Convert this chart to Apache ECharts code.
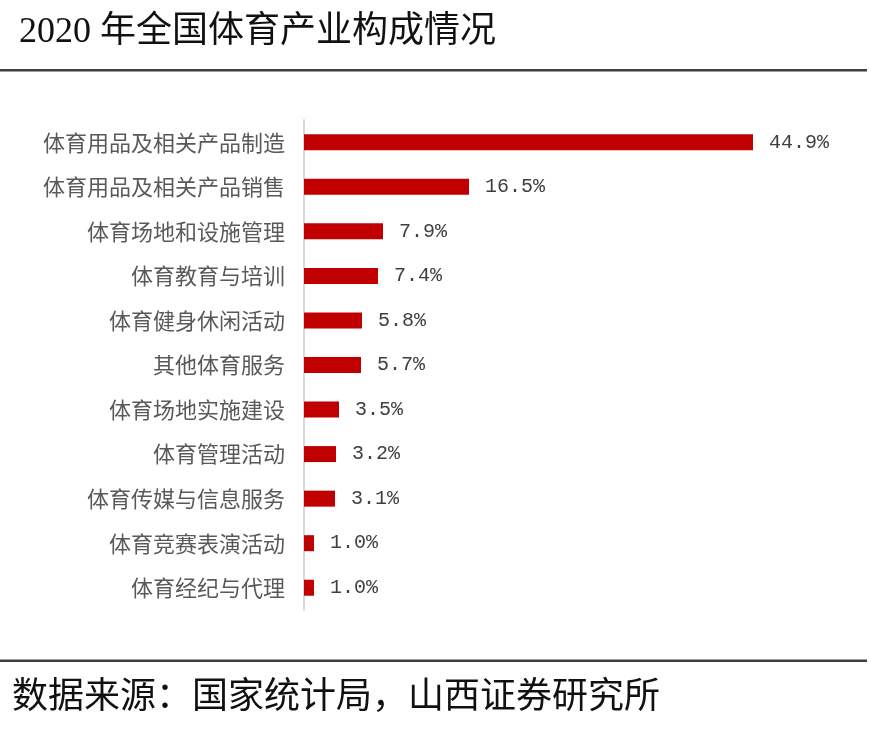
<!DOCTYPE html>
<html><head><meta charset="utf-8">
<script src="https://cdn.jsdelivr.net/npm/echarts@6/dist/echarts.min.js"></script>
<style>html,body{margin:0;padding:0;background:#fff}#c{width:869px;height:743px}</style>
</head><body><div id="c"></div>
<script>
const titleText = '2020 年全国体育产业构成情况';
const sourceText = '数据来源：国家统计局，山西证券研究所';
const categories = ['体育用品及相关产品制造','体育用品及相关产品销售','体育场地和设施管理','体育教育与培训','体育健身休闲活动','其他体育服务','体育场地实施建设','体育管理活动','体育传媒与信息服务','体育竞赛表演活动','体育经纪与代理'];
const values = [44.9,16.5,7.9,7.4,5.8,5.7,3.5,3.2,3.1,1.0,1.0];

const chart = echarts.init(document.getElementById('c'));
chart.setOption({
  backgroundColor:'#fff',
  animation:false,
  title:{text:titleText,left:14,top:10,textStyle:{fontFamily:'"Liberation Serif","Noto Sans CJK SC"',fontSize:36,fontWeight:'normal',color:'#111'}},
  grid:{left:304,right:65,top:120,bottom:133,containLabel:false},
  xAxis:{type:'value',min:0,max:50,show:false},
  yAxis:{type:'category',data:categories,inverse:true,
    axisLine:{show:true,lineStyle:{color:'#d9d9d9',width:2}},
    axisTick:{show:false},
    axisLabel:{margin:19,color:'#595959',fontSize:22,fontFamily:'"Noto Sans CJK SC"'}},
  series:[{type:'bar',data:values,barWidth:16,itemStyle:{color:'#C00000'},
    label:{show:true,position:'right',distance:16,color:'#404040',fontSize:20,fontFamily:'"Liberation Mono","Noto Sans CJK SC"',
      formatter:p=>p.value.toFixed(1)+'%'}}],
  graphic:[
    {type:'rect',shape:{x:0,y:69,width:867,height:2.5},style:{fill:'#404040'}},
    {type:'rect',shape:{x:0,y:659.5,width:867,height:2.5},style:{fill:'#404040'}},
    {type:'text',left:12,top:676,style:{text:sourceText,fontSize:36,fontFamily:'"Noto Sans CJK SC"',fill:'#111'}}
  ]
});
</script></body></html>
